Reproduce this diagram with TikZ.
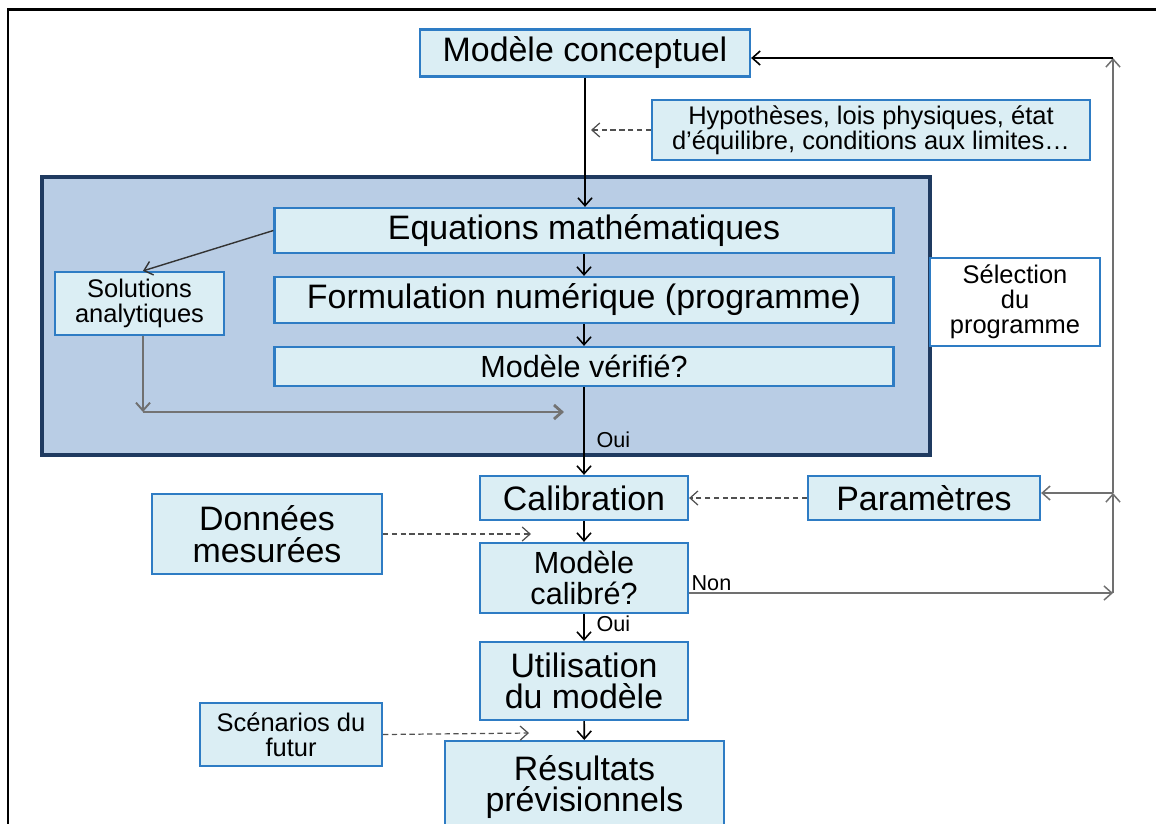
\documentclass[tikz,border=0pt]{standalone}
\usepackage{fontspec}
\setmainfont{Liberation Sans}
\usetikzlibrary{arrows.meta}
\definecolor{boxblue}{HTML}{2E7CC4}
\definecolor{boxfill}{HTML}{DBEEF4}
\definecolor{panelfill}{HTML}{B9CDE5}
\definecolor{panelborder}{HTML}{1F3A60}
\definecolor{greyline}{HTML}{707070}
\definecolor{dashgrey}{HTML}{505050}
\tikzset{
  box/.style={draw=boxblue, fill=boxfill, line width=1.3pt, inner sep=0pt, align=center},
  fbig/.style={font=\fontsize{19.3}{18}\selectfont},
  fmed/.style={font=\fontsize{17.4}{18}\selectfont},
  fsmall/.style={font=\fontsize{14.5}{14.2}\selectfont},
  flab/.style={font=\fontsize{12.3}{13}\selectfont, inner sep=1pt, text=black},
  tip/.style={-{Straight Barb[length=4.5pt,width=8pt]}},
  mainline/.style={tip, line width=0.9pt, black},
  greyarrow/.style={tip, line width=0.85pt, greyline},
  dasharrow/.style={tip, line width=0.7pt, dashgrey, dash pattern=on 3pt off 2pt},
}
\begin{document}
\begin{tikzpicture}[x=0.02cm,y=-0.02cm]
\clip (0,0) rectangle (1156,823);
\fill[white] (0,0) rectangle (1156,823);
% frame
\draw[line width=1.7pt, black] (8,842) -- (8,9) -- (1170,9);
% panel
\draw[draw=panelborder, fill=panelfill, line width=2.2pt] (42,177) rectangle (930,455);
% nodes
\node[box, fbig, minimum width=6.6cm, minimum height=0.94cm] (mc) at (585,53) {Modèle conceptuel};
\node[box, fsmall, minimum width=8.76cm, minimum height=1.2cm] (hyp) at (871,130) {\raisebox{-3pt}{Hypothèses, lois physiques, état}\\\raisebox{-3pt}{d’équilibre, conditions aux limites…}};
\node[box, fbig, minimum width=12.38cm, minimum height=0.9cm] (eq) at (584,230.5) {Equations mathématiques};
\node[box, fbig, minimum width=12.38cm, minimum height=0.92cm] (form) at (584,300) {Formulation numérique (programme)};
\node[box, fmed, minimum width=12.38cm, minimum height=0.78cm] (ver) at (584,366.5) {Modèle vérifié?};
\node[box, fsmall, minimum width=3.38cm, minimum height=1.26cm] (sol) at (139.5,303.5) {Solutions\\analytiques};
\node[box, fill=white, fsmall, minimum width=3.4cm, minimum height=1.76cm] (sel) at (1015,302) {Sélection\\du\\programme};
\node[box, fbig, minimum width=4.16cm, minimum height=0.88cm] (cal) at (584,498) {Calibration};
\node[box, fbig, minimum width=4.64cm, minimum height=0.88cm] (par) at (924,498) {Paramètres};
\node[box, fbig, minimum width=4.6cm, minimum height=1.6cm] (don) at (267,534) {Données\\mesurées};
\node[box, fmed, minimum width=4.16cm, minimum height=1.4cm] (mcal) at (584,578) {Modèle\\calibré?};
\node[box, fbig, minimum width=4.16cm, minimum height=1.56cm] (uti) at (584,681) {Utilisation\\du modèle};
\node[box, fbig, minimum width=5.58cm, minimum height=1.84cm, anchor=north] (res) at (584.5,740) {Résultats\\prévisionnels};
\node[box, fsmall, minimum width=3.64cm, minimum height=1.26cm] (sce) at (291,734.5) {Scénarios du\\futur};
% coordinates
\coordinate (hypend) at (591,130);
\coordinate (solturn) at (143,412);
\coordinate (solend) at (564,412);
\coordinate (donend) at (531,534);
\coordinate (sceend) at (529,733);
\coordinate (r1) at (1113,593);
\coordinate (r2) at (1113,493);
\coordinate (r3) at (1113,58);
% connectors
\draw[mainline] (mc.south) -- (mc.south |- eq.north);
\draw[dasharrow] (hyp.west) -- (hypend);
\draw[mainline] (eq) -- (form);
\draw[mainline] (form) -- (ver);
\draw[tip, line width=0.8pt, black!80] (eq.west) -- ([xshift=0.07cm]sol.north);
\draw[greyarrow, line width=1.1pt] ([xshift=0.07cm]sol.south) -- (solturn);
\draw[greyarrow, line width=1.6pt, black!55] (solturn) -- (solend);
\draw[mainline] (ver) -- node[flab, pos=0.6, anchor=west, xshift=0.2cm]{Oui} (cal);
\draw[dasharrow] (par) -- (cal);
\draw[dasharrow] (don.east) -- (donend);
\draw[mainline] (cal) -- (mcal);
\draw[greyarrow] (mcal.east |- r1) -- node[flab, pos=0.0, anchor=south west]{Non} (r1);
\draw[mainline] (mcal) -- node[flab, pos=0.35, anchor=west, xshift=0.2cm]{Oui} (uti);
\draw[dasharrow] (sce.east) -- (sceend);
\draw[mainline] (uti) -- (res);
\draw[greyarrow] (r1) -- (r2);
\draw[greyarrow] (r2) -- (r3);
\draw[mainline] (r3) -- (mc.east |- r3);
\draw[greyarrow] (r2) -- (par.east |- r2);
\end{tikzpicture}
\end{document}
